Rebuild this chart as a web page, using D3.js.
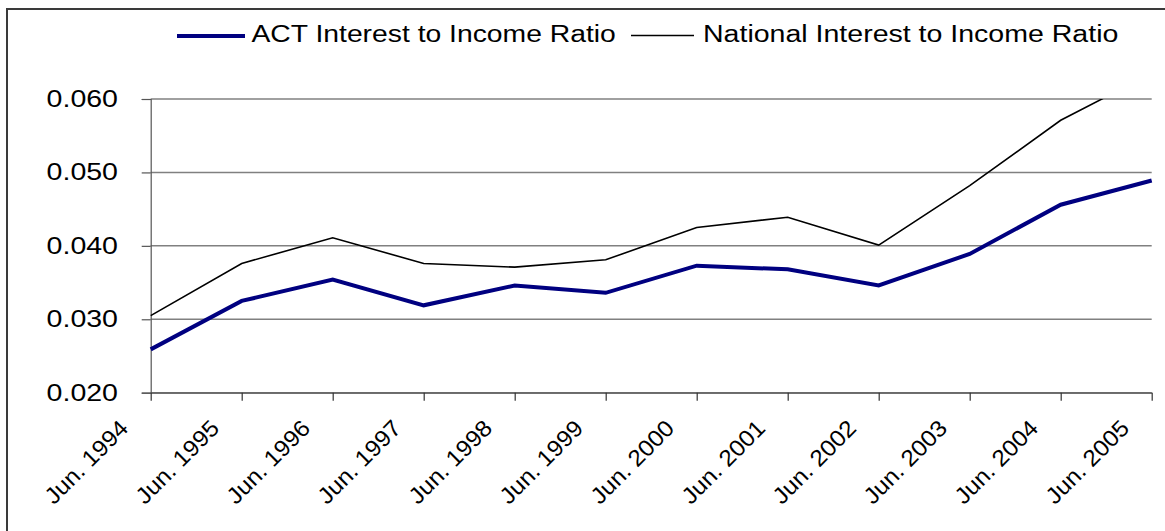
<!DOCTYPE html>
<html>
<head>
<meta charset="utf-8">
<script src="https://cdn.jsdelivr.net/npm/d3@7"></script>
<style>
  html, body { margin: 0; padding: 0; background: #ffffff; }
  svg { display: block; }
  text { font-family: "Liberation Sans", Arial, sans-serif; fill: #000; }
</style>
</head>
<body>
<svg id="chart" width="1165" height="531"></svg>
<script>
// Interest-to-income ratios, June of each year
const categories = ["Jun. 1994", "Jun. 1995", "Jun. 1996", "Jun. 1997", "Jun. 1998", "Jun. 1999",
                    "Jun. 2000", "Jun. 2001", "Jun. 2002", "Jun. 2003", "Jun. 2004", "Jun. 2005"];
const actRatio = [0.0259, 0.0325, 0.0354, 0.0319, 0.0346, 0.0336, 0.0373, 0.0368, 0.0346, 0.0389, 0.0456, 0.0489];
const nationalRatio = [0.0305, 0.0376, 0.0411, 0.0376, 0.0371, 0.0381, 0.0425, 0.0439, 0.0401, 0.0482, 0.0571, 0.0635];
const yTicks = [0.020, 0.030, 0.040, 0.050, 0.060];
const seriesNames = ["ACT Interest to Income Ratio", "National Interest to Income Ratio"];

const svg = d3.select("#chart");
const plot = { left: 150.7, right: 1151.7, top: 99, bottom: 392.7 };

const x = d3.scalePoint().domain(categories).range([plot.left, plot.right]);
const y = d3.scaleLinear().domain([0.02, 0.06]).range([plot.bottom, plot.top]);

// widen glyphs horizontally by a given factor
function stretch(sel, factor) {
  sel.each(function () {
    const w = this.getComputedTextLength();
    d3.select(this).attr("textLength", w * factor).attr("lengthAdjust", "spacingAndGlyphs");
  });
}

// chart frame
svg.append("rect")
  .attr("x", 7).attr("y", 9).attr("width", 1250).attr("height", 700)
  .attr("fill", "none").attr("stroke", "#3a3a3a").attr("stroke-width", 2);

// horizontal gridlines
svg.append("g").selectAll("line").data(yTicks).join("line")
  .attr("x1", plot.left).attr("x2", plot.right)
  .attr("y1", d => y(d)).attr("y2", d => y(d))
  .attr("stroke", "#808080").attr("stroke-width", 1.5);

// y axis
const yAxis = svg.append("g")
  .attr("transform", `translate(${plot.left},0)`)
  .call(d3.axisLeft(y).tickValues(yTicks).tickSize(9).tickFormat(d3.format(".3f")));
yAxis.select(".domain").attr("stroke", "#555").attr("stroke-width", 1.2);
yAxis.selectAll(".tick line").attr("stroke", "#555").attr("stroke-width", 1.2);
yAxis.selectAll(".tick text").remove();

svg.append("g").selectAll("text").data(yTicks).join("text")
  .attr("x", 118).attr("y", d => y(d) + 8)
  .attr("text-anchor", "end")
  .style("font-size", "23px")
  .text(d => d3.format(".3f")(d))
  .call(stretch, 1.24);

// x axis
const xAxis = svg.append("g")
  .attr("transform", `translate(0,${plot.bottom})`)
  .call(d3.axisBottom(x).tickSize(8).tickSizeOuter(0));
xAxis.select(".domain").attr("stroke", "#555").attr("stroke-width", 1.2);
xAxis.selectAll(".tick line").attr("stroke", "#333").attr("stroke-width", 1.2);
xAxis.selectAll(".tick text").remove();

svg.append("g").selectAll("text").data(categories).join("text")
  .attr("transform", d => `translate(${x(d) - 21},${plot.bottom + 37}) rotate(-45)`)
  .attr("text-anchor", "end")
  .style("font-size", "23px")
  .text(d => d)
  .call(stretch, 1.06);

// clip series to the plot area
svg.append("clipPath").attr("id", "plot-clip")
  .append("rect")
  .attr("x", plot.left - 4).attr("y", plot.top)
  .attr("width", plot.right - plot.left + 8).attr("height", plot.bottom - plot.top + 4);

const line = d3.line().x((d, i) => x(categories[i])).y(d => y(d));
const lines = svg.append("g").attr("clip-path", "url(#plot-clip)");

lines.append("path").datum(nationalRatio)
  .attr("d", line).attr("fill", "none")
  .attr("stroke", "#000").attr("stroke-width", 1.6).attr("stroke-linejoin", "miter");

lines.append("path").datum(actRatio)
  .attr("d", line).attr("fill", "none")
  .attr("stroke", "#000080").attr("stroke-width", 4).attr("stroke-linejoin", "miter");

// legend
const legend = svg.append("g");
legend.append("line").attr("x1", 177).attr("x2", 245).attr("y1", 36).attr("y2", 36)
  .attr("stroke", "#000080").attr("stroke-width", 4);
legend.append("text").attr("x", 251.5).attr("y", 42)
  .style("font-size", "23px").text(seriesNames[0]).call(stretch, 1.23);
legend.append("line").attr("x1", 631).attr("x2", 694).attr("y1", 35.5).attr("y2", 35.5)
  .attr("stroke", "#000").attr("stroke-width", 1.6);
legend.append("text").attr("x", 703).attr("y", 42)
  .style("font-size", "23px").text(seriesNames[1]).call(stretch, 1.24);
</script>
</body>
</html>
